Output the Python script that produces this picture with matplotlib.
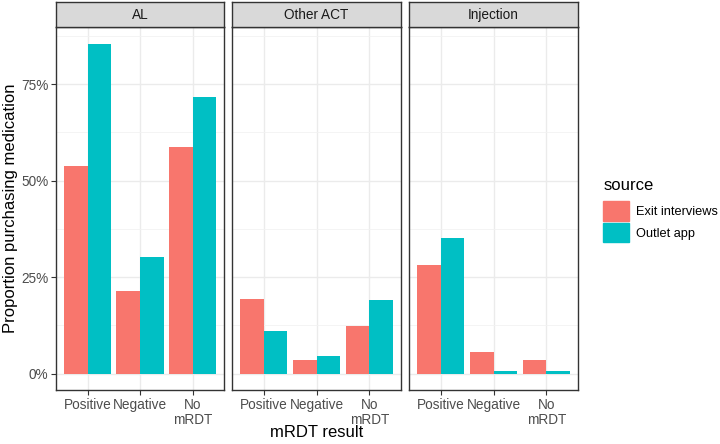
import matplotlib.pyplot as plt
import matplotlib.patches as mpatches
import numpy as np

# ---------- data ----------
panels = ['AL', 'Other ACT', 'Injection']
results = ['Positive', 'Negative', 'No\nmRDT']
sources = ['Exit interviews', 'Outlet app']
exit_vals = {
    'AL': [53.7, 21.4, 58.6],
    'Other ACT': [19.3, 3.6, 12.3],
    'Injection': [28.2, 5.5, 3.6],
}
app_vals = {
    'AL': [85.5, 30.1, 71.7],
    'Other ACT': [10.9, 4.6, 19.1],
    'Injection': [35.1, 0.7, 0.7],
}
colors = ['#F8766D', '#00BFC4']
y_ticks = [0, 25, 50, 75]
y_ticklabels = ['0%', '25%', '50%', '75%']

plt.rcParams['font.family'] = ['Liberation Sans', 'DejaVu Sans']

fig = plt.figure(figsize=(7.2, 4.44), dpi=100)
W, H = 720, 444

def fx(px):
    return px / W

def fy(py):
    return 1 - py / H

panel_x = [(56, 224), (232, 401), (409, 578)]
top_px, bot_px, strip_top = 27, 390, 2

ymax = max(max(v) for v in app_vals.values())
ymax = max(ymax, max(max(v) for v in exit_vals.values()))
pad = ymax * 0.05
x = np.arange(len(results))
bw = 0.45

for i, name in enumerate(panels):
    x0, x1 = panel_x[i]
    ax = fig.add_axes([fx(x0), fy(bot_px), fx(x1 - x0), (bot_px - top_px) / H])
    ax.bar(x - bw / 2, exit_vals[name], width=bw, color=colors[0], zorder=3)
    ax.bar(x + bw / 2, app_vals[name], width=bw, color=colors[1], zorder=3)
    ax.set_xlim(-0.6, len(results) - 0.4)
    ax.set_ylim(-pad, ymax + pad)
    ax.set_xticks(x)
    ax.set_xticklabels(results, fontsize=9.8, color='#4D4D4D', linespacing=1.15)
    ax.set_yticks(y_ticks)
    ax.set_yticks([12.5, 37.5, 62.5, 87.5], minor=True)
    ax.tick_params(axis='both', which='major', color='#333333', length=3.5, width=0.8, pad=2)
    ax.tick_params(axis='y', which='minor', length=0)
    if i == 0:
        ax.set_yticklabels(y_ticklabels, fontsize=9.8, color='#4D4D4D')
    else:
        ax.set_yticklabels([])
        ax.tick_params(axis='y', which='major', length=0)
    ax.grid(True, which='major', color='#EBEBEB', linewidth=1.0, zorder=0)
    ax.grid(True, which='minor', axis='y', color='#F2F2F2', linewidth=0.6, zorder=0)
    for s in ax.spines.values():
        s.set_color('#333333')
        s.set_linewidth(1.0)
    ax.set_axisbelow(True)

    # strip
    sax = fig.add_axes([fx(x0), fy(top_px), fx(x1 - x0), (top_px - strip_top) / H])
    sax.set_facecolor('#D9D9D9')
    sax.set_xticks([])
    sax.set_yticks([])
    for s in sax.spines.values():
        s.set_color('#333333')
        s.set_linewidth(1.0)
    sax.text(0.5, 0.5, name, ha='center', va='center', fontsize=9.8, color='#1A1A1A',
             transform=sax.transAxes)

fig.text(fx((56 + 578) / 2), fy(437), 'mRDT result', ha='center', va='baseline', fontsize=12)
fig.text(fx(11), fy((top_px + bot_px) / 2), 'Proportion purchasing medication', rotation=90,
         ha='center', va='center', fontsize=12)

handles = [mpatches.Patch(color=c, label=l) for c, l in zip(colors, sources)]
leg = fig.legend(handles=handles, loc='center left', bbox_to_anchor=(fx(598), fy(210)),
                 title='source', frameon=False, fontsize=9.2, title_fontsize=12,
                 handlelength=2.0, handleheight=2.0, labelspacing=0.15, handletextpad=0.55,
                 alignment='left', borderaxespad=0)
leg._legend_box.sep = 6

fig.savefig('out.png', dpi=100)
